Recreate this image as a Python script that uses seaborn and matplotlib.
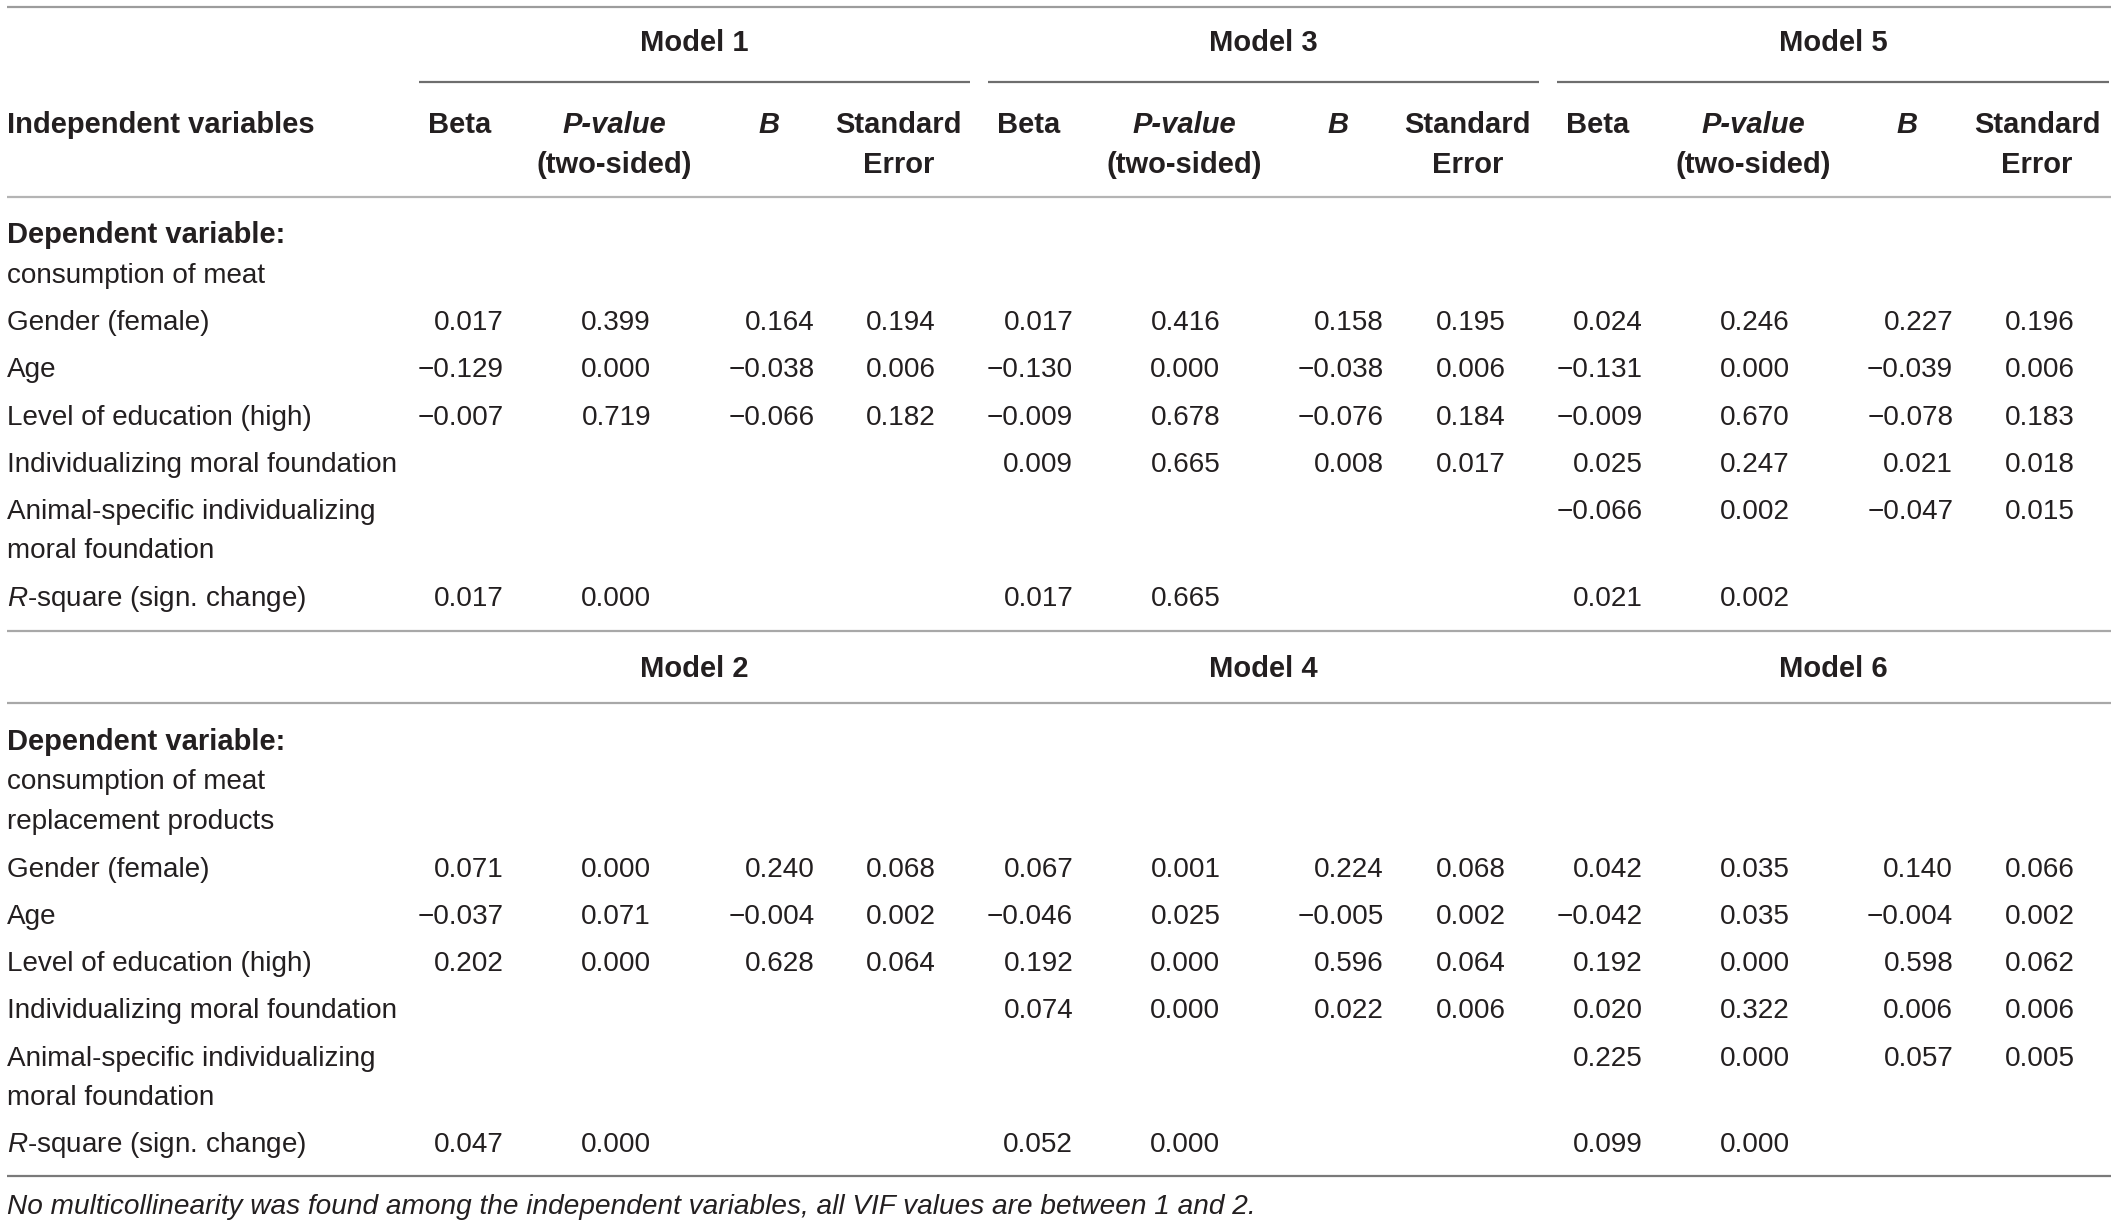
import numpy as np
import pandas as pd
import seaborn as sns
import matplotlib.pyplot as plt

# ---- table content ----
predictors = [
    "Gender (female)",
    "Age",
    "Level of education (high)",
    "Individualizing moral foundation",
    "Animal-specific individualizing\nmoral foundation",
    r"$\mathit{R}$-square (sign. change)",
]
stat_headers = ["Beta", "P-value", "B", "Standard"]
stat_subheaders = ["", "(two-sided)", "", "Error"]
stat_italic = [False, True, True, False]
top_models = ["Model 1", "Model 3", "Model 5"]
bottom_models = ["Model 2", "Model 4", "Model 6"]
top_dependent = ["consumption of meat"]
bottom_dependent = ["consumption of meat", "replacement products"]
footnote = ("No multicollinearity was found among the independent variables, "
            "all VIF values are between 1 and 2.")

N = None
# rows: gender, age, education, individualizing, animal-specific, R-square
# cols: Beta, P-value, B, Standard Error
model1 = [[0.017, 0.399, 0.164, 0.194], [-0.129, 0.000, -0.038, 0.006],
          [-0.007, 0.719, -0.066, 0.182], [N, N, N, N], [N, N, N, N],
          [0.017, 0.000, N, N]]
model3 = [[0.017, 0.416, 0.158, 0.195], [-0.130, 0.000, -0.038, 0.006],
          [-0.009, 0.678, -0.076, 0.184], [0.009, 0.665, 0.008, 0.017],
          [N, N, N, N], [0.017, 0.665, N, N]]
model5 = [[0.024, 0.246, 0.227, 0.196], [-0.131, 0.000, -0.039, 0.006],
          [-0.009, 0.670, -0.078, 0.183], [0.025, 0.247, 0.021, 0.018],
          [-0.066, 0.002, -0.047, 0.015], [0.021, 0.002, N, N]]
model2 = [[0.071, 0.000, 0.240, 0.068], [-0.037, 0.071, -0.004, 0.002],
          [0.202, 0.000, 0.628, 0.064], [N, N, N, N], [N, N, N, N],
          [0.047, 0.000, N, N]]
model4 = [[0.067, 0.001, 0.224, 0.068], [-0.046, 0.025, -0.005, 0.002],
          [0.192, 0.000, 0.596, 0.064], [0.074, 0.000, 0.022, 0.006],
          [N, N, N, N], [0.052, 0.000, N, N]]
model6 = [[0.042, 0.035, 0.140, 0.066], [-0.042, 0.035, -0.004, 0.002],
          [0.192, 0.000, 0.598, 0.062], [0.020, 0.322, 0.006, 0.006],
          [0.225, 0.000, 0.057, 0.005], [0.099, 0.000, N, N]]

# ---- style ----
sns.set_theme(style="white")
plt.rcParams["font.family"] = ["Liberation Sans", "DejaVu Sans"]
plt.rcParams["mathtext.fontset"] = "custom"
plt.rcParams["mathtext.rm"] = "Liberation Sans"
plt.rcParams["mathtext.it"] = "Liberation Sans:italic"

INK = "#231f20"
FS = 20.1
FS_B = 21
HALF_CAP = 7.5           # baseline offset from visual centre (layout units)
GROUP_X = [373, 794.5, 1216]          # right edge of Beta column per model
COL_RIGHT = [0, 109, 230, 320]        # numbers right-aligned, offsets
COL_CENTER = [-33, 82, 196, 292]      # header centres, offsets
ROW_STEP = 35

fig = plt.figure(figsize=(21.18, 12.25), dpi=100)
ax = fig.add_axes([0, 0, 1, 1])
ax.set_xlim(0, 1568)
ax.set_ylim(907, 0)
ax.axis("off")


def txt(x, y, s, **kw):
    kw.setdefault("color", INK)
    kw.setdefault("fontsize", FS)
    ax.text(x, y + HALF_CAP, s, va="baseline", **kw)


def hline(y, x0=5, x1=1563, color="#a6a6a6", lw=1.6):
    ax.plot([x0, x1], [y, y], color=color, lw=lw, solid_capstyle="butt")


def fmt(v):
    return f"{v:.3f}".replace("-", "\u2212")


def draw_block(models, model_y, dep_lines, dep_y, values):
    for name, gx in zip(models, GROUP_X):
        txt(gx + 141, model_y, name, fontweight="bold", fontsize=FS_B, ha="center")
    txt(5, dep_y, "Dependent variable:", fontweight="bold", fontsize=FS_B)
    for i, line in enumerate(dep_lines):
        txt(5, dep_y + 29.5 * (i + 1), line)
    y = dep_y + 29.5 * len(dep_lines) + ROW_STEP
    for r, label in enumerate(predictors):
        for j, part in enumerate(label.split("\n")):
            txt(5, y + 29 * j, part)
        for gx, data in zip(GROUP_X, values):
            for c, v in enumerate(data[r]):
                if v is not None:
                    txt(gx + COL_RIGHT[c], y, fmt(v), ha="right")
        y += ROW_STEP + (29 if "\n" in label else 0)


# header
hline(5, color="#9c9c9c")
for gx in GROUP_X:
    hline(61, gx - 63, gx + 345, color="#6e6e6e")
txt(5, 91, "Independent variables", fontweight="bold", fontsize=FS_B)
for gx in GROUP_X:
    for c in range(4):
        txt(gx + COL_CENTER[c], 91, stat_headers[c], fontweight="bold",
            fontsize=FS_B, ha="center",
            fontstyle="italic" if stat_italic[c] else "normal")
        if stat_subheaders[c]:
            txt(gx + COL_CENTER[c], 120.5, stat_subheaders[c],
                fontweight="bold", fontsize=FS_B, ha="center")
hline(146, color="#b4b4b4")

draw_block(top_models, 30, top_dependent, 172.5, [model1, model3, model5])
hline(467.5, color="#a8a8a8")
draw_block(bottom_models, 494, bottom_dependent, 547.5, [model2, model4, model6])
hline(520.5, color="#a8a8a8")
hline(871, color="#7a7a7a")
txt(5, 891, footnote, fontstyle="italic", fontsize=20.2)

fig.savefig("out.png", dpi=100)
